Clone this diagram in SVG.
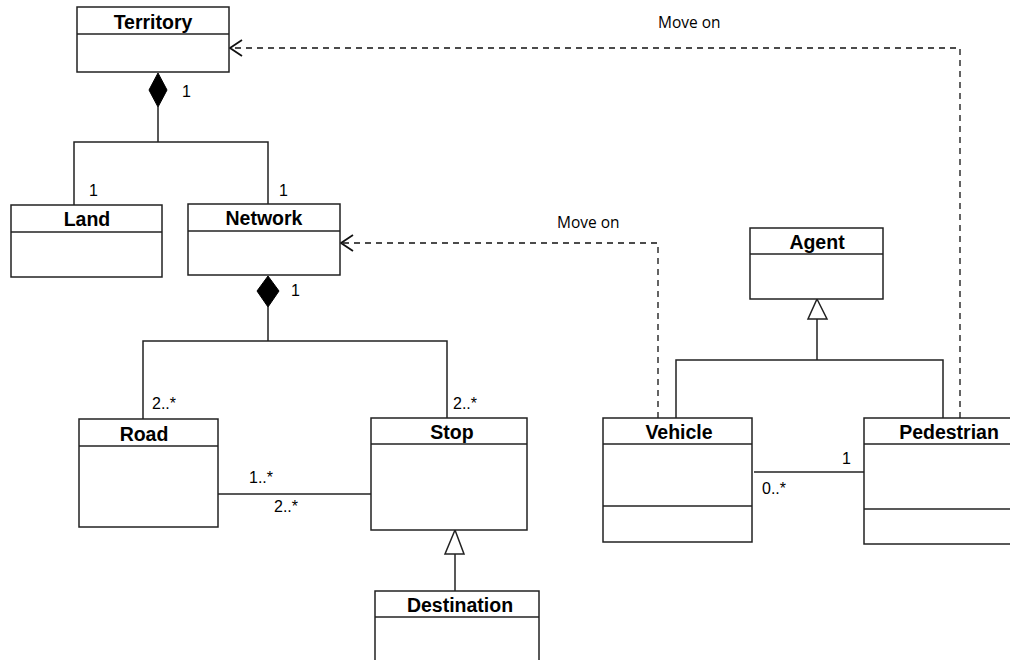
<svg xmlns="http://www.w3.org/2000/svg" width="1010" height="660" viewBox="0 0 1010 660">
<defs>
<style>
.box{fill:#fff;stroke:#222;stroke-width:1.5}
.ln{fill:none;stroke:#222;stroke-width:1.5}
.dash{fill:none;stroke:#111;stroke-width:1.3;stroke-dasharray:6,5}
.name{font-family:"Liberation Sans",Arial,sans-serif;font-weight:bold;font-size:19.5px;text-anchor:middle;fill:#000}
.mult{font-family:"Liberation Sans",Arial,sans-serif;font-size:16px;fill:#000}
.lbl{font-family:"Open Sans","Liberation Sans",sans-serif;font-size:15.5px;fill:#000}
</style>
<marker id="open" markerWidth="16" markerHeight="20" refX="13" refY="9" orient="auto" markerUnits="userSpaceOnUse">
<path d="M1,1 L13,9 L1,17" fill="none" stroke="#111" stroke-width="1.8"/>
</marker>
</defs>
<rect width="1010" height="660" fill="#fff"/>
<g id="connectors">
<path class="ln" d="M158,107 V142 M74,205 V142 H268 V204"/>
<path d="M158,73 L167,90 L158,107 L149,90 Z" fill="#000" stroke="#000"/>
<text class="mult" x="182" y="97">1</text>
<text class="mult" x="89" y="196">1</text>
<text class="mult" x="279" y="196">1</text>
<path class="ln" d="M268,307 V341 M143,419 V341 H447 V418"/>
<path d="M268,276 L279,291 L268,307 L257,291 Z" fill="#000" stroke="#000"/>
<text class="mult" x="291" y="296">1</text>
<text class="mult" x="152" y="409">2..*</text>
<text class="mult" x="453" y="409">2..*</text>
<path class="ln" d="M218,494 H371"/>
<text class="mult" x="249" y="483">1..*</text>
<text class="mult" x="274" y="512">2..*</text>
<path class="ln" d="M455,554 V591"/>
<path d="M455,530 L464,554 L445,554 Z" fill="#fff" stroke="#222" stroke-width="1.5"/>
<path class="ln" d="M817,319 V360 M676,418 V360 H943 V418"/>
<path d="M817,299 L827,319 L808,319 Z" fill="#fff" stroke="#222" stroke-width="1.5"/>
<path class="ln" d="M754,472 H864"/>
<text class="mult" x="842" y="464">1</text>
<text class="mult" x="762" y="494">0..*</text>
<path class="dash" d="M658,418 V243 H341" marker-end="url(#open)"/>
<text class="lbl" x="557" y="228">Move on</text>
<path class="dash" d="M960,418 V48 H230" marker-end="url(#open)"/>
<text class="lbl" x="658" y="28">Move on</text>
</g>
<g id="Territory">
<rect class="box" x="77" y="7" width="152" height="65"/>
<line class="ln" x1="77" y1="34" x2="229" y2="34"/>
<text class="name" x="153" y="29">Territory</text>
</g>
<g id="Land">
<rect class="box" x="11" y="205" width="151" height="72"/>
<line class="ln" x1="11" y1="232" x2="162" y2="232"/>
<text class="name" x="87" y="226">Land</text>
</g>
<g id="Network">
<rect class="box" x="188" y="204" width="152" height="71"/>
<line class="ln" x1="188" y1="231" x2="340" y2="231"/>
<text class="name" x="264" y="225">Network</text>
</g>
<g id="Road">
<rect class="box" x="79" y="419" width="139" height="108"/>
<line class="ln" x1="79" y1="446" x2="218" y2="446"/>
<text class="name" x="144" y="441">Road</text>
</g>
<g id="Stop">
<rect class="box" x="371" y="418" width="156" height="112"/>
<line class="ln" x1="371" y1="444" x2="527" y2="444"/>
<text class="name" x="452" y="439">Stop</text>
</g>
<g id="Destination">
<rect class="box" x="375" y="591" width="164" height="80"/>
<line class="ln" x1="375" y1="617" x2="539" y2="617"/>
<text class="name" x="460" y="612">Destination</text>
</g>
<g id="Agent">
<rect class="box" x="750" y="228" width="133" height="71"/>
<line class="ln" x1="750" y1="254" x2="883" y2="254"/>
<text class="name" x="817" y="249">Agent</text>
</g>
<g id="Vehicle">
<rect class="box" x="603" y="418" width="149" height="124"/>
<line class="ln" x1="603" y1="444" x2="752" y2="444"/>
<line class="ln" x1="603" y1="506" x2="752" y2="506"/>
<text class="name" x="679" y="439">Vehicle</text>
</g>
<g id="Pedestrian">
<rect class="box" x="864" y="418" width="160" height="126"/>
<line class="ln" x1="864" y1="444" x2="1010" y2="444"/>
<line class="ln" x1="864" y1="509" x2="1010" y2="509"/>
<text class="name" x="949" y="439">Pedestrian</text>
</g>
</svg>
